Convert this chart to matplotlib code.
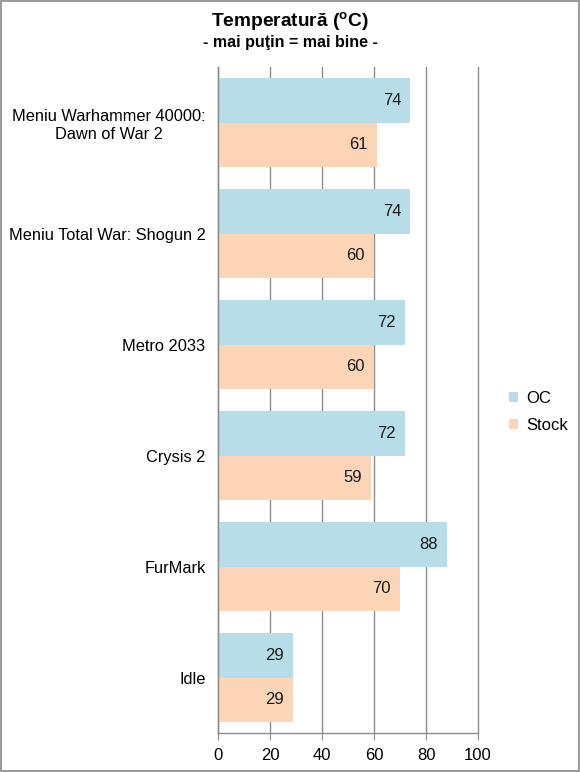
import matplotlib
matplotlib.use("Agg")
import matplotlib.pyplot as plt
from matplotlib.patches import Rectangle
import numpy as np

plt.rcParams['font.family'] = ['Liberation Sans', 'DejaVu Sans']

categories = ["Meniu Warhammer 40000:\nDawn of War 2", "Meniu Total War: Shogun 2",
              "Metro 2033", "Crysis 2", "FurMark", "Idle"]
oc_values = [74, 74, 72, 72, 88, 29]
stock_values = [61, 60, 60, 59, 70, 29]
series_names = ["OC", "Stock"]
xticks = [0, 20, 40, 60, 80, 100]

oc_color = "#B6DDE8"
stock_color = "#FBD5B5"
grid_color = "#8C8C8C"

fig = plt.figure(figsize=(5.8, 7.72), dpi=100)
ax = fig.add_axes([218/580, 1-733/772, (478-218)/580, (733-67)/772])

n = len(categories)
y = np.arange(n)[::-1].astype(float)
h = 0.4
b1 = ax.barh(y + h/2, oc_values, height=h, color=oc_color, label=series_names[0], zorder=2)
b2 = ax.barh(y - h/2, stock_values, height=h, color=stock_color, label=series_names[1], zorder=2)

for bars, vals in ((b1, oc_values), (b2, stock_values)):
    for bar, v in zip(bars, vals):
        ax.annotate(f"{v}", xy=(v, bar.get_y() + bar.get_height()/2), xytext=(-6.5, 0),
                    textcoords='offset points', ha='right', va='center',
                    fontsize=12, color='#1a1a1a', zorder=3)

ax.set_xlim(0, 100)
ax.set_ylim(-0.5, n - 0.5)
ax.set_xticks(xticks)
ax.set_xticklabels([str(t) for t in xticks], fontsize=12)
ax.set_yticks(y)
ax.set_yticklabels(categories, fontsize=11.8, multialignment='center', linespacing=1.25)
ax.tick_params(axis='y', length=0, pad=9)
ax.tick_params(axis='x', length=5, color=grid_color, pad=6)
ax.xaxis.grid(True, color=grid_color, linewidth=1.0, zorder=0)
for gl in ax.get_xgridlines():
    gl.set_clip_on(False)
ax.set_axisbelow(True)
for s in ['top', 'right']:
    ax.spines[s].set_visible(False)
for s in ['left', 'bottom']:
    ax.spines[s].set_color(grid_color)
    ax.spines[s].set_linewidth(1.0)

fig.text(0.5, 1-21/772, r"Temperatură ($\mathregular{^o}$C)", ha='center', va='center',
         fontsize=13.8, fontweight='bold')
fig.text(0.5, 1-43/772, "- mai puţin = mai bine -", ha='center', va='center',
         fontsize=11.5, fontweight='bold')

leg = fig.legend(handles=[b1, b2], labels=series_names, loc='center left',
                 bbox_to_anchor=(494/580, 1-412/772), frameon=False, fontsize=12,
                 handlelength=0.55, handleheight=0.55, handletextpad=0.5, labelspacing=0.75)

fig.patches.append(Rectangle((0.001, 0.001), 0.998, 0.998, transform=fig.transFigure,
                             fill=False, edgecolor='#888888', linewidth=1.2))

fig.savefig("out.png", dpi=100)
